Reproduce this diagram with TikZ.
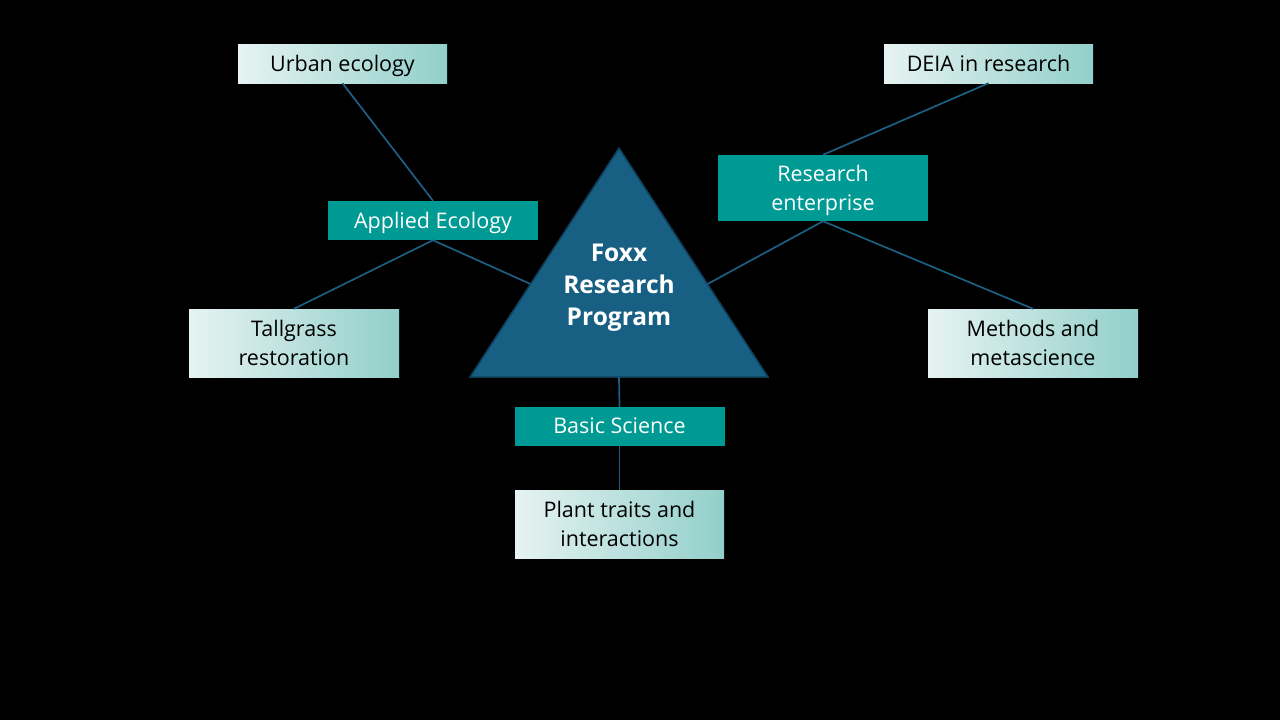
\documentclass[tikz,border=0pt]{standalone}
\usepackage{fontspec}
\setmainfont{Open Sans}
\usetikzlibrary{calc}
\definecolor{hubteal}{HTML}{009A94}
\definecolor{lightL}{HTML}{E6F3F2}
\definecolor{lightR}{HTML}{92CFCA}
\definecolor{link}{HTML}{1B5F82}
\definecolor{triFill}{HTML}{185F84}
\definecolor{triEdge}{HTML}{0E3D57}
\begin{document}
\begin{tikzpicture}[x=1pt,y=-1pt,
  boxtext/.style={font=\fontsize{21.5}{29}\selectfont, align=center, inner sep=0pt, text depth=1pt},
  leaf/.style={boxtext, minimum width=209pt, left color=lightL, right color=lightR, text=black},
  hub/.style={boxtext, minimum width=210pt, fill=hubteal, text=white},
  link/.style={draw=link, line width=1.7pt}]
  % canvas
  \fill[black] (0,0) rectangle (1280,720);
  \useasboundingbox (0,0) rectangle (1280,720);

  % central triangle
  \coordinate (apex) at (619,148);
  \coordinate (bl) at (470,377);
  \coordinate (br) at (768,377);
  \fill[triFill, draw=triEdge, line width=1.5pt, line join=miter] (apex) -- (br) -- (bl) -- cycle;
  \node[font=\fontsize{24.5}{32}\selectfont\bfseries, text=white, align=center, inner sep=0pt] (core) at (619,288) {Foxx\\Research\\Program};
  \coordinate (triL) at ($(apex)!0.594!(bl)$);
  \coordinate (triR) at ($(apex)!0.594!(br)$);
  \coordinate (triB) at (619,377);

  % theme boxes
  \node[hub, minimum height=39pt] (applied) at (433,220.5) {Applied Ecology};
  \node[hub, minimum height=66pt] (enterprise) at (823,188) {Research\\enterprise};
  \node[hub, minimum height=39pt] (basic) at (619.5,426.5) {Basic Science};

  % topic boxes
  \node[leaf, minimum height=39pt] (urban) at (342.5,63.5) {Urban ecology};
  \node[leaf, minimum height=39pt] (deia) at (988.5,63.5) {DEIA in research};
  \node[leaf, minimum height=68pt, minimum width=210pt] (tallgrass) at (294,343) {Tallgrass\\restoration};
  \node[leaf, minimum height=68pt, minimum width=210pt] (methods) at (1033,343) {Methods and\\metascience};
  \node[leaf, minimum height=68pt] (plant) at (619.5,524) {Plant traits and\\interactions};

  % connectors
  \draw[link] (urban.south) -- (applied.north);
  \draw[link] (applied.south) -- (tallgrass.north);
  \draw[link] (applied.south) -- (triL);
  \draw[link] (enterprise.north) -- (deia.south);
  \draw[link] (enterprise.south) -- (triR);
  \draw[link] (enterprise.south) -- (methods.north);
  \draw[link] (triB) -- (basic.north);
  \draw[link] (basic.south) -- (plant.north);
\end{tikzpicture}
\end{document}
